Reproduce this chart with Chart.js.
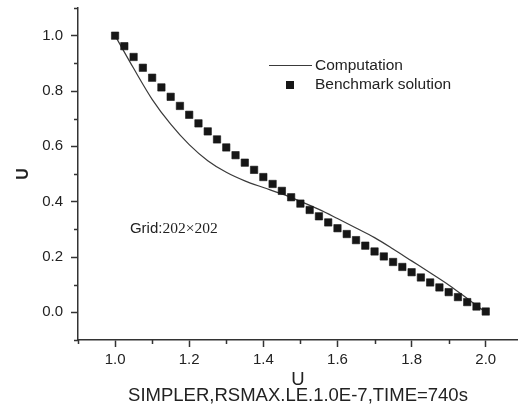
<!DOCTYPE html>
<html>
<head>
<meta charset="utf-8">
<script src="https://cdn.jsdelivr.net/npm/chart.js@4.4.1/dist/chart.umd.min.js"></script>
<style>
html, body { margin: 0; padding: 0; background: #fff; }
</style>
</head>
<body>
<canvas id="chart" width="518" height="412"></canvas>
<script>
// benchmark solution (squares)
const benchX = [1.000, 1.025, 1.050, 1.075, 1.100, 1.125, 1.150, 1.175, 1.200, 1.225,
                1.250, 1.275, 1.300, 1.325, 1.350, 1.375, 1.400, 1.425, 1.450, 1.475,
                1.500, 1.525, 1.550, 1.575, 1.600, 1.625, 1.650, 1.675, 1.700, 1.725,
                1.750, 1.775, 1.800, 1.825, 1.850, 1.875, 1.900, 1.925, 1.950, 1.975, 2.000];
const benchU = [1.000, 0.962, 0.923, 0.884, 0.848, 0.813, 0.779, 0.746, 0.714, 0.683,
                0.654, 0.625, 0.596, 0.568, 0.541, 0.515, 0.489, 0.464, 0.439, 0.416,
                0.393, 0.370, 0.347, 0.325, 0.304, 0.283, 0.261, 0.241, 0.220, 0.202,
                0.182, 0.164, 0.145, 0.126, 0.108, 0.090, 0.073, 0.055, 0.037, 0.021, 0.003];

// computation (line)
const compX = [1.00, 1.05, 1.10, 1.15, 1.20, 1.25, 1.30, 1.35, 1.40, 1.45, 1.50,
               1.55, 1.60, 1.65, 1.70, 1.75, 1.80, 1.85, 1.90, 1.95, 2.00];
const compU = [1.000, 0.882, 0.770, 0.680, 0.606, 0.548, 0.506, 0.475, 0.451, 0.428, 0.401,
               0.372, 0.339, 0.305, 0.270, 0.229, 0.186, 0.143, 0.099, 0.050, 0.000];

// labelled (major) ticks
const xMajor = [1.0, 1.2, 1.4, 1.6, 1.8, 2.0];
const yMajor = [0.0, 0.2, 0.4, 0.6, 0.8, 1.0];

const seriesNames = ['Computation', 'Benchmark solution'];
const gridNote = ['Grid:', '202\u00d7202'];
const xTitle = ['U', 'SIMPLER,RSMAX.LE.1.0E-7,TIME=740s'];
const yTitle = 'U';

const axisColor = '#333';
const textColor = '#222';
const sans = "'Liberation Sans', Arial, sans-serif";

function isMajor(v, list) {
    return list.some(m => Math.abs(m - v) < 1e-6);
}

// short unlabelled ticks between the labelled ones
const minorTicks = {
    id: 'minorTicks',
    afterDraw(chart) {
        const ctx = chart.ctx;
        const xs = chart.scales.x, ys = chart.scales.y;
        ctx.save();
        ctx.strokeStyle = axisColor;
        ctx.lineWidth = 1.5;
        ctx.beginPath();
        xs.ticks.forEach(t => {
            if (isMajor(t.value, xMajor)) return;
            const p = Math.round(xs.getPixelForValue(t.value)) + 0.5;
            ctx.moveTo(p, xs.top);
            ctx.lineTo(p, xs.top + 4);
        });
        ys.ticks.forEach(t => {
            if (isMajor(t.value, yMajor)) return;
            const p = Math.round(ys.getPixelForValue(t.value)) + 0.5;
            ctx.moveTo(ys.right, p);
            ctx.lineTo(ys.right - 4, p);
        });
        ctx.stroke();
        ctx.restore();
    }
};

// legend drawn inside the plot, like the original figure
const innerLegend = {
    id: 'innerLegend',
    afterDraw(chart) {
        const ctx = chart.ctx;
        const ds = chart.data.datasets;
        ctx.save();
        ctx.font = '15.5px ' + sans;
        ctx.fillStyle = textColor;
        ctx.textBaseline = 'middle';
        // line sample
        ctx.strokeStyle = ds[0].borderColor;
        ctx.lineWidth = ds[0].borderWidth;
        ctx.beginPath();
        ctx.moveTo(269, 65.5);
        ctx.lineTo(312, 65.5);
        ctx.stroke();
        ctx.fillText(ds[0].label, 315, 66);
        // square sample
        ctx.fillStyle = ds[1].backgroundColor;
        ctx.fillRect(286, 81, 8, 8);
        ctx.fillStyle = textColor;
        ctx.fillText(ds[1].label, 315, 85);
        ctx.restore();
    }
};

// "Grid:202x202" note, placed in data units
const gridLabel = {
    id: 'gridLabel',
    afterDraw(chart) {
        const ctx = chart.ctx;
        const x = chart.scales.x.getPixelForValue(1.04);
        const y = chart.scales.y.getPixelForValue(0.303);
        ctx.save();
        ctx.fillStyle = textColor;
        ctx.textBaseline = 'middle';
        ctx.font = '15px ' + sans;
        ctx.fillText(gridNote[0], x, y);
        const w = ctx.measureText(gridNote[0]).width;
        ctx.font = "15.5px 'Liberation Serif', 'Times New Roman', serif";
        ctx.fillText(gridNote[1], x + w, y);
        ctx.restore();
    }
};

const ctx = document.getElementById('chart').getContext('2d');

new Chart(ctx, {
    type: 'scatter',
    data: {
        datasets: [{
            label: seriesNames[0],
            data: compX.map((x, i) => ({ x: x, y: compU[i] })),
            showLine: true,
            borderColor: '#3a3a3a',
            borderWidth: 1.2,
            pointRadius: 0,
            cubicInterpolationMode: 'monotone',
            order: 2
        }, {
            label: seriesNames[1],
            data: benchX.map((x, i) => ({ x: x, y: benchU[i] })),
            showLine: false,
            pointStyle: 'rect',
            pointRadius: 5.2,
            backgroundColor: '#161616',
            borderColor: '#161616',
            borderWidth: 0.6,
            order: 1
        }]
    },
    options: {
        responsive: false,
        animation: false,
        layout: { autoPadding: false, padding: { top: 8, right: 0, bottom: 0, left: 0 } },
        plugins: {
            legend: { display: false },
            tooltip: { enabled: false }
        },
        scales: {
            x: {
                type: 'linear',
                min: 0.9,
                max: 2.087,
                border: { color: axisColor, width: 1.5 },
                grid: {
                    drawOnChartArea: false,
                    tickLength: 7,
                    tickWidth: 1.5,
                    tickColor: c => isMajor(c.tick.value, xMajor) ? axisColor : 'transparent'
                },
                ticks: {
                    stepSize: 0.1,
                    includeBounds: false,
                    autoSkip: false,
                    maxRotation: 0,
                    padding: 4,
                    color: textColor,
                    font: { family: sans, size: 15 },
                    callback: v => isMajor(v, xMajor) ? v.toFixed(1) : ''
                },
                title: {
                    display: true,
                    text: xTitle,
                    color: textColor,
                    font: { family: sans, size: 18.5, lineHeight: '16px' },
                    padding: { top: 0, bottom: 8 }
                },
                afterFit: s => {
                    s.height = 72;
                    s.paddingLeft = 0;
                    s.paddingRight = 0;
                }
            },
            y: {
                type: 'linear',
                min: -0.1,
                max: 1.1,
                border: { color: axisColor, width: 1.5 },
                grid: {
                    drawOnChartArea: false,
                    tickLength: 7,
                    tickWidth: 1.5,
                    tickColor: c => isMajor(c.tick.value, yMajor) ? axisColor : 'transparent'
                },
                ticks: {
                    stepSize: 0.1,
                    includeBounds: false,
                    autoSkip: false,
                    padding: 8,
                    color: textColor,
                    font: { family: sans, size: 15 },
                    callback: v => isMajor(v, yMajor) ? v.toFixed(1) : ''
                },
                title: {
                    display: true,
                    text: yTitle,
                    color: textColor,
                    font: { family: sans, size: 16, weight: 'bold' },
                    padding: { top: 14, bottom: 0 }
                },
                afterFit: s => {
                    s.width = 78;
                    s.paddingTop = 0;
                    s.paddingBottom = 0;
                }
            }
        }
    },
    plugins: [minorTicks, innerLegend, gridLabel]
});
</script>
</body>
</html>
